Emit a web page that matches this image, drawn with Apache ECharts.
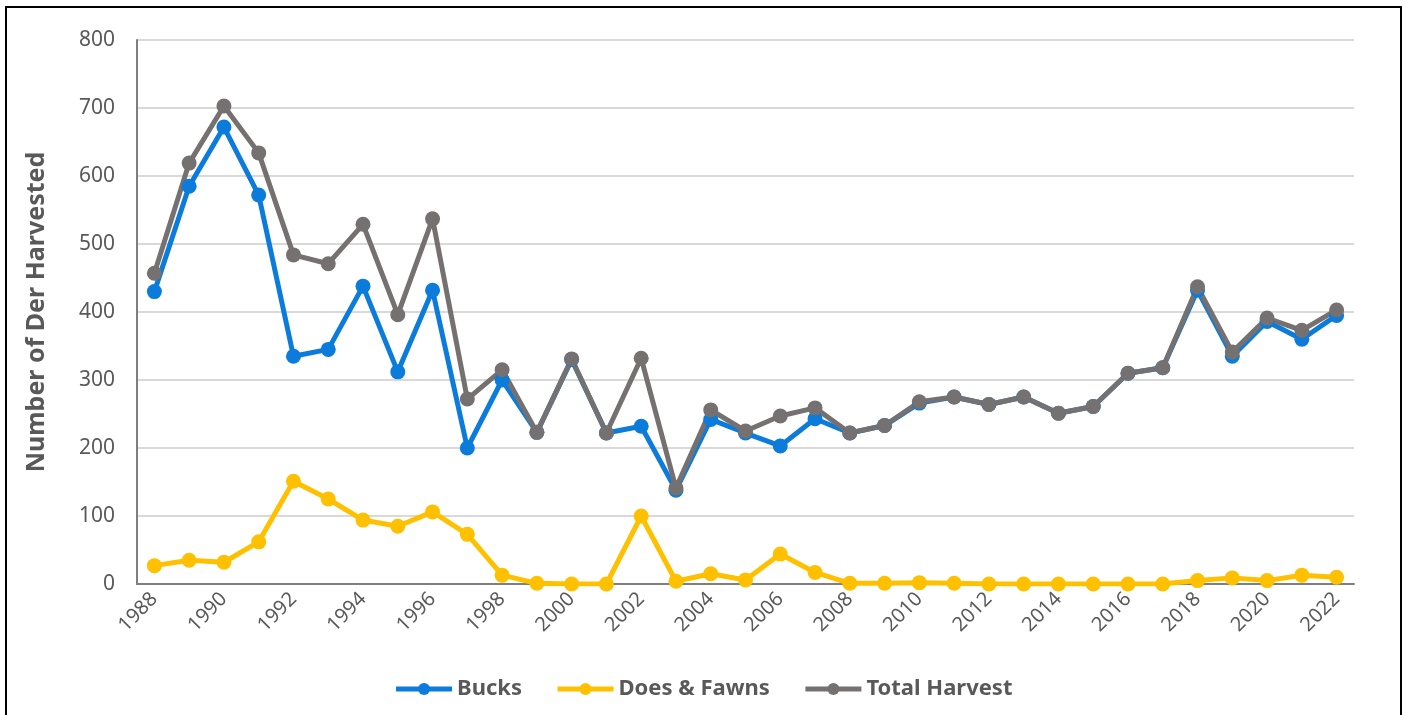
<!DOCTYPE html>
<html>
<head>
<meta charset="utf-8">
<script src="https://cdn.jsdelivr.net/npm/echarts@6/dist/echarts.min.js"></script>
<style>
  html, body { margin: 0; padding: 0; background: #fff; }
  .frame {
    position: absolute; left: 5px; top: 6px; width: 1397px; height: 720px;
    border: 2px solid #000; box-sizing: border-box;
  }
  #chart { position: absolute; left: 0; top: 0; width: 1406px; height: 715px; }
</style>
</head>
<body>
<div class="frame"></div>
<div id="chart"></div>
<script>
// 年份
const years = [];
for (let y = 1988; y <= 2022; y++) years.push(String(y));

const bucks = [430, 585, 672, 572, 335, 345, 438, 312, 432, 200,
  300, 223, 330, 222, 232, 138, 242, 222, 203, 243,
  222, 233, 266, 275, 264, 275, 251, 261, 310, 318,
  432, 335, 386, 360, 395];

const doesFawns = [27, 35, 32, 62, 151, 125, 94, 85, 106, 73,
  13, 1, 0, 0, 100, 4, 15, 6, 44, 17,
  1, 1, 2, 1, 0, 0, 0, 0, 0, 0,
  5, 9, 5, 13, 10];

const totalHarvest = [457, 619, 703, 634, 484, 471, 529, 396, 537, 272,
  315, 223, 331, 222, 332, 141, 256, 225, 247, 259,
  222, 233, 268, 275, 264, 275, 251, 261, 310, 318,
  437, 341, 391, 373, 403];

const yTicks = { min: 0, max: 800, interval: 100 };

const font = "Noto Sans";
const textColor = "#595959";

function line(name, data, color) {
  return {
    name: name,
    type: "line",
    data: data,
    symbol: "circle",
    symbolSize: 15,
    lineStyle: { width: 5, color: color },
    itemStyle: { color: color },
    animation: false
  };
}

let option = {
  textStyle: { fontFamily: font },
  grid: { left: 137, right: 52, top: 40, bottom: 131 },
  legend: {
    bottom: 10,
    left: "center",
    itemWidth: 56,
    itemHeight: 15,
    itemGap: 33,
    lineStyle: { width: 5 },
    textStyle: { fontFamily: font, fontSize: 22, fontWeight: "bold", color: textColor },
    data: ["Bucks", "Does & Fawns", "Total Harvest"]
  },
  xAxis: {
    type: "category",
    data: years,
    boundaryGap: true,
    axisLine: { lineStyle: { color: "#7f7f7f", width: 2 } },
    axisTick: { alignWithLabel: true, length: 6, lineStyle: { color: "#7f7f7f" } },
    axisLabel: {
      interval: 1,
      rotate: 45,
      fontSize: 20,
      color: textColor,
      margin: 12
    }
  },
  yAxis: {
    type: "value",
    min: yTicks.min,
    max: yTicks.max,
    interval: yTicks.interval,
    name: "Number of Der Harvested",
    nameLocation: "middle",
    nameGap: 88,
    nameTextStyle: { fontSize: 25, fontWeight: "bold", color: textColor },
    axisLine: { show: true, lineStyle: { color: "#7f7f7f", width: 2 } },
    axisTick: { show: false },
    axisLabel: { fontSize: 21, color: textColor, margin: 22 },
    splitLine: { lineStyle: { color: "#d9d9d9", width: 2 } }
  },
  series: [
    line("Bucks", bucks, "#0b7bdc"),
    line("Does & Fawns", doesFawns, "#ffc000"),
    line("Total Harvest", totalHarvest, "#767171")
  ]
};

echarts.init(document.getElementById("chart")).setOption(option);
</script>
</body>
</html>
